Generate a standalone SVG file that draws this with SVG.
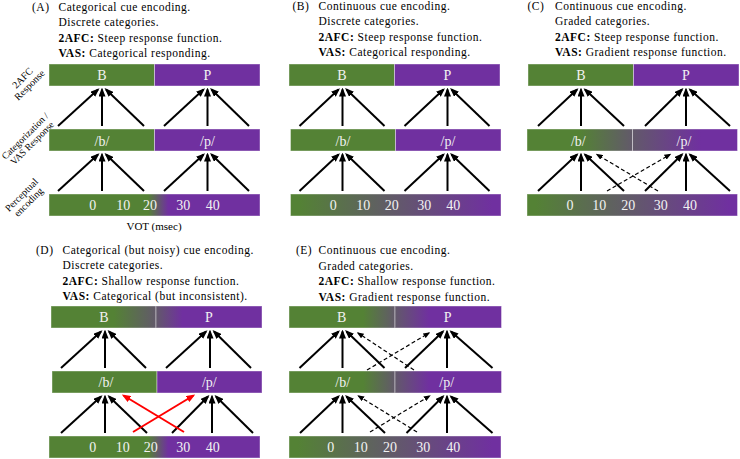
<svg xmlns="http://www.w3.org/2000/svg" width="740" height="459" viewBox="0 0 740 459">
<style>
.hd{font-family:"Liberation Serif","Times New Roman",serif;font-size:11.5px;letter-spacing:0.5px;fill:#000}
.b{font-weight:bold}
.side{font-family:"Liberation Serif","Times New Roman",serif;font-size:10px;fill:#000;text-anchor:middle}
.lb{font-family:"Liberation Serif","Times New Roman",serif;font-size:14px;fill:#f2f2f2;text-anchor:middle}
.g{fill:#548235}
.p{fill:#7030a0}
rect{stroke:#ffffff;stroke-opacity:0.4;stroke-width:1}
.a{stroke:#000;stroke-width:2;fill:none;marker-end:url(#ah)}
.d{stroke:#000;stroke-width:1.2;stroke-dasharray:4 2.5;fill:none;marker-end:url(#ahd)}
.r{stroke:#ff0000;stroke-width:2;fill:none;marker-end:url(#ahr)}
</style>
<defs>
<marker id="ah" viewBox="0 0 9 7" refX="7" refY="3.5" markerWidth="9" markerHeight="7" markerUnits="userSpaceOnUse" orient="auto"><path d="M0,0 L9,3.5 L0,7 z" fill="#000"/></marker>
<marker id="ahr" viewBox="0 0 9 7" refX="7" refY="3.5" markerWidth="9" markerHeight="7" markerUnits="userSpaceOnUse" orient="auto"><path d="M0,0 L9,3.5 L0,7 z" fill="#ff0000"/></marker>
<marker id="ahd" viewBox="0 0 7 5.5" refX="5.5" refY="2.75" markerWidth="7" markerHeight="5.5" markerUnits="userSpaceOnUse" orient="auto"><path d="M0,0 L7,2.75 L0,5.5 z" fill="#000"/></marker>
<linearGradient id="gBotSharp" x1="0" y1="0" x2="1" y2="0"><stop offset="0.47" stop-color="#548235"/><stop offset="0.565" stop-color="#7030a0"/></linearGradient>
<linearGradient id="gBotFull" x1="0" y1="0" x2="1" y2="0"><stop offset="0.04" stop-color="#548235"/><stop offset="0.96" stop-color="#7030a0"/></linearGradient>
<linearGradient id="gLC" x1="0" y1="0" x2="1" y2="0"><stop offset="0.5" stop-color="#548235"/><stop offset="1" stop-color="#62596a"/></linearGradient>
<linearGradient id="gRC" x1="0" y1="0" x2="1" y2="0"><stop offset="0" stop-color="#62596a"/><stop offset="0.65" stop-color="#7030a0"/></linearGradient>
<linearGradient id="gLD" x1="0" y1="0" x2="1" y2="0"><stop offset="0.6" stop-color="#548235"/><stop offset="1" stop-color="#62596a"/></linearGradient>
<linearGradient id="gRD" x1="0" y1="0" x2="1" y2="0"><stop offset="0" stop-color="#62596a"/><stop offset="0.25" stop-color="#7030a0"/></linearGradient>
<linearGradient id="gLE" x1="0" y1="0" x2="1" y2="0"><stop offset="0.7" stop-color="#548235"/><stop offset="1" stop-color="#62596a"/></linearGradient>
<linearGradient id="gRE" x1="0" y1="0" x2="1" y2="0"><stop offset="0" stop-color="#62596a"/><stop offset="0.32" stop-color="#7030a0"/></linearGradient>
</defs>

<g id="headers">
<text class="hd" x="32" y="10.5">(A)</text>
<text class="hd" x="58.5" y="10.5">Categorical cue encoding.</text>
<text class="hd" x="58.5" y="26">Discrete categories.</text>
<text class="hd" x="58.5" y="41.5"><tspan class="b">2AFC:</tspan> Steep response function.</text>
<text class="hd" x="58.5" y="57"><tspan class="b">VAS:</tspan> Categorical responding.</text>

<text class="hd" x="292.5" y="9.5">(B)</text>
<text class="hd" x="318.5" y="9.5">Continuous cue encoding.</text>
<text class="hd" x="318.5" y="25">Discrete categories.</text>
<text class="hd" x="318.5" y="40.5"><tspan class="b">2AFC:</tspan> Steep response function.</text>
<text class="hd" x="318.5" y="56"><tspan class="b">VAS:</tspan> Categorical responding.</text>

<text class="hd" x="527.5" y="9.5">(C)</text>
<text class="hd" x="555" y="9.5">Continuous cue encoding.</text>
<text class="hd" x="555" y="25">Graded categories.</text>
<text class="hd" x="555" y="40.5"><tspan class="b">2AFC:</tspan> Steep response function.</text>
<text class="hd" x="555" y="56"><tspan class="b">VAS:</tspan> Gradient response function.</text>

<text class="hd" x="36" y="253.5">(D)</text>
<text class="hd" x="62.5" y="253.5">Categorical (but noisy) cue encoding.</text>
<text class="hd" x="62.5" y="269">Discrete categories.</text>
<text class="hd" x="62.5" y="284.5"><tspan class="b">2AFC:</tspan> Shallow response function.</text>
<text class="hd" x="62.5" y="300"><tspan class="b">VAS:</tspan> Categorical (but inconsistent).</text>

<text class="hd" x="296" y="254">(E)</text>
<text class="hd" x="318.5" y="254">Continuous cue encoding.</text>
<text class="hd" x="318.5" y="269.5">Graded categories.</text>
<text class="hd" x="318.5" y="285"><tspan class="b">2AFC:</tspan> Shallow response function.</text>
<text class="hd" x="318.5" y="300.5"><tspan class="b">VAS:</tspan> Gradient response function.</text>
</g>

<g id="side-labels">
<g transform="translate(26,81.5) rotate(-45)"><text class="side" x="0" y="-1.7">2AFC</text><text class="side" x="0" y="8.3">Response</text></g>
<g transform="translate(28.5,139.5) rotate(-45)"><text class="side" x="0" y="-1.7" style="font-size:9.6px">Categorization /</text><text class="side" x="0" y="8.3" style="font-size:9.6px">VAS Response</text></g>
<g transform="translate(25,198.5) rotate(-45)"><text class="side" x="0" y="-1.7">Perceptual</text><text class="side" x="0" y="8.3">encoding</text></g>
<text class="side" x="154" y="230" style="font-size:11px">VOT (msec)</text>
</g>

<g id="panelA">
<rect class="g" x="49" y="64" width="105.5" height="22"/><rect class="p" x="154.5" y="64" width="105.5" height="22"/>
<rect class="g" x="49" y="129" width="105.5" height="22"/><rect class="p" x="154.5" y="129" width="105.5" height="22"/>
<rect x="49" y="194" width="211" height="22" fill="url(#gBotSharp)"/>
<text class="lb" x="102" y="80">B</text><text class="lb" x="207.5" y="80">P</text>
<text class="lb" x="102" y="145.5">/b/</text><text class="lb" x="207.5" y="145.5">/p/</text>
<text class="lb" x="92.7" y="210">0</text><text class="lb" x="123.3" y="210">10</text><text class="lb" x="150" y="210">20</text><text class="lb" x="183.3" y="210">30</text><text class="lb" x="212.7" y="210">40</text>
</g>

<g id="panelB">
<rect class="g" x="289" y="64" width="105.5" height="22"/><rect class="p" x="394.5" y="64" width="105.5" height="22"/>
<rect class="g" x="290.5" y="129" width="105" height="22"/><rect class="p" x="395.5" y="129" width="105.5" height="22"/>
<rect x="290.5" y="194" width="210.5" height="22" fill="url(#gBotFull)"/>
<text class="lb" x="342" y="80">B</text><text class="lb" x="447.5" y="80">P</text>
<text class="lb" x="343" y="145.5">/b/</text><text class="lb" x="448" y="145.5">/p/</text>
<text class="lb" x="333.3" y="210">0</text><text class="lb" x="363.3" y="210">10</text><text class="lb" x="391.7" y="210">20</text><text class="lb" x="424.3" y="210">30</text><text class="lb" x="453.3" y="210">40</text>
</g>

<g id="panelC">
<rect class="g" x="528" y="64" width="105.5" height="22"/><rect class="p" x="633.5" y="64" width="105.5" height="22"/>
<rect x="527" y="129" width="105.5" height="22" fill="url(#gLC)"/><rect x="632.5" y="129" width="105" height="22" fill="url(#gRC)"/>
<rect x="527" y="194" width="210.5" height="22" fill="url(#gBotFull)"/>
<text class="lb" x="581" y="80">B</text><text class="lb" x="686" y="80">P</text>
<text class="lb" x="578.3" y="145.5">/b/</text><text class="lb" x="684" y="145.5">/p/</text>
<text class="lb" x="570" y="210">0</text><text class="lb" x="599.3" y="210">10</text><text class="lb" x="628.3" y="210">20</text><text class="lb" x="660.7" y="210">30</text><text class="lb" x="690" y="210">40</text>
</g>

<g id="panelD">
<rect x="51" y="306" width="105" height="22" fill="url(#gLD)"/><rect x="156" y="306" width="106" height="22" fill="url(#gRD)"/>
<rect class="g" x="52" y="371" width="105" height="22"/><rect class="p" x="157" y="371" width="105" height="22"/>
<rect x="49" y="436" width="211" height="22" fill="url(#gBotSharp)"/>
<text class="lb" x="104" y="322">B</text><text class="lb" x="209" y="322">P</text>
<text class="lb" x="106" y="387">/b/</text><text class="lb" x="209.3" y="387">/p/</text>
<text class="lb" x="92.7" y="452">0</text><text class="lb" x="122.7" y="452">10</text><text class="lb" x="150.7" y="452">20</text><text class="lb" x="183.3" y="452">30</text><text class="lb" x="212.7" y="452">40</text>
</g>

<g id="panelE">
<rect x="289" y="306" width="106" height="22" fill="url(#gLE)"/><rect x="395" y="306" width="106.5" height="22" fill="url(#gRE)"/>
<rect x="289" y="371" width="106" height="22" fill="url(#gLE)"/><rect x="395" y="371" width="106.5" height="22" fill="url(#gRE)"/>
<rect x="289" y="436" width="212" height="22" fill="url(#gBotFull)"/>
<text class="lb" x="341.7" y="322">B</text><text class="lb" x="447.7" y="322">P</text>
<text class="lb" x="342.7" y="387">/b/</text><text class="lb" x="446.7" y="387">/p/</text>
<text class="lb" x="330.7" y="452">0</text><text class="lb" x="360.7" y="452">10</text><text class="lb" x="390" y="452">20</text><text class="lb" x="423.3" y="452">30</text><text class="lb" x="453.3" y="452">40</text>
</g>

<g id="connectors">
<!-- A -->
<line class="a" x1="58" y1="126" x2="98" y2="89.5"/><line class="a" x1="102" y1="126" x2="102" y2="89.5"/><line class="a" x1="144" y1="126" x2="106" y2="89.5"/>
<line class="a" x1="164" y1="126" x2="203.5" y2="89.5"/><line class="a" x1="207.5" y1="126" x2="207.5" y2="89.5"/><line class="a" x1="249" y1="126" x2="211.5" y2="89.5"/>
<line class="a" x1="58" y1="191" x2="98" y2="154.5"/><line class="a" x1="102" y1="191" x2="102" y2="154.5"/><line class="a" x1="144" y1="191" x2="106" y2="154.5"/>
<line class="a" x1="164" y1="191" x2="203.5" y2="154.5"/><line class="a" x1="207.5" y1="191" x2="207.5" y2="154.5"/><line class="a" x1="249" y1="191" x2="211.5" y2="154.5"/>
<!-- B -->
<line class="a" x1="299.5" y1="126" x2="338.5" y2="89.5"/><line class="a" x1="342.5" y1="126" x2="342.5" y2="89.5"/><line class="a" x1="384.5" y1="126" x2="346.5" y2="89.5"/>
<line class="a" x1="404.5" y1="126" x2="443.5" y2="89.5"/><line class="a" x1="447.5" y1="126" x2="447.5" y2="89.5"/><line class="a" x1="489.5" y1="126" x2="451.5" y2="89.5"/>
<line class="a" x1="299.5" y1="191" x2="338.5" y2="154.5"/><line class="a" x1="342.5" y1="191" x2="342.5" y2="154.5"/><line class="a" x1="384.5" y1="191" x2="346.5" y2="154.5"/>
<line class="a" x1="404.5" y1="191" x2="443.5" y2="154.5"/><line class="a" x1="447.5" y1="191" x2="447.5" y2="154.5"/><line class="a" x1="489.5" y1="191" x2="451.5" y2="154.5"/>
<!-- C -->
<line class="a" x1="538" y1="126" x2="577" y2="89.5"/><line class="a" x1="581" y1="126" x2="581" y2="89.5"/><line class="a" x1="624" y1="126" x2="585" y2="89.5"/>
<line class="a" x1="645" y1="126" x2="682" y2="89.5"/><line class="a" x1="686" y1="126" x2="686" y2="89.5"/><line class="a" x1="730" y1="126" x2="690" y2="89.5"/>
<line class="a" x1="538" y1="191" x2="577" y2="154.5"/><line class="a" x1="581" y1="191" x2="581" y2="154.5"/><line class="a" x1="624" y1="191" x2="585" y2="154.5"/>
<line class="a" x1="645" y1="191" x2="682" y2="154.5"/><line class="a" x1="686" y1="191" x2="686" y2="154.5"/><line class="a" x1="730" y1="191" x2="690" y2="154.5"/>
<line class="d" x1="607" y1="191" x2="670" y2="154.5"/><line class="d" x1="658" y1="191" x2="597" y2="154.5"/>
<!-- D -->
<line class="a" x1="61" y1="368" x2="101" y2="331.5"/><line class="a" x1="105" y1="368" x2="105" y2="331.5"/><line class="a" x1="146" y1="368" x2="109" y2="331.5"/>
<line class="a" x1="166" y1="368" x2="206" y2="331.5"/><line class="a" x1="210" y1="368" x2="210" y2="331.5"/><line class="a" x1="251" y1="368" x2="214" y2="331.5"/>
<line class="a" x1="61" y1="433" x2="101" y2="396.5"/><line class="a" x1="105" y1="433" x2="105" y2="396.5"/><line class="a" x1="147" y1="433" x2="109" y2="396.5"/>
<line class="a" x1="172" y1="433" x2="208" y2="396.5"/><line class="a" x1="212" y1="433" x2="212" y2="396.5"/><line class="a" x1="253" y1="433" x2="216" y2="396.5"/>
<line class="r" x1="133" y1="432" x2="193.5" y2="395.5"/><line class="r" x1="184" y1="432" x2="123.5" y2="395.5"/>
<!-- E -->
<line class="a" x1="299.5" y1="368" x2="338.5" y2="331.5"/><line class="a" x1="342.5" y1="368" x2="342.5" y2="331.5"/><line class="a" x1="384.5" y1="368" x2="346.5" y2="331.5"/>
<line class="a" x1="405" y1="368" x2="443" y2="331.5"/><line class="a" x1="447" y1="368" x2="447" y2="331.5"/><line class="a" x1="492.5" y1="368" x2="451" y2="331.5"/>
<line class="a" x1="300" y1="433" x2="338.5" y2="396.5"/><line class="a" x1="342.5" y1="433" x2="342.5" y2="396.5"/><line class="a" x1="385" y1="433" x2="346.5" y2="396.5"/>
<line class="a" x1="406.5" y1="433" x2="443" y2="396.5"/><line class="a" x1="447" y1="433" x2="447" y2="396.5"/><line class="a" x1="492.5" y1="433" x2="451" y2="396.5"/>
<line class="d" x1="367" y1="370" x2="429" y2="333"/><line class="d" x1="414" y1="370" x2="358" y2="333"/>
<line class="d" x1="370" y1="432" x2="429.5" y2="396"/><line class="d" x1="417" y1="432" x2="358.5" y2="396"/>
</g>
</svg>
